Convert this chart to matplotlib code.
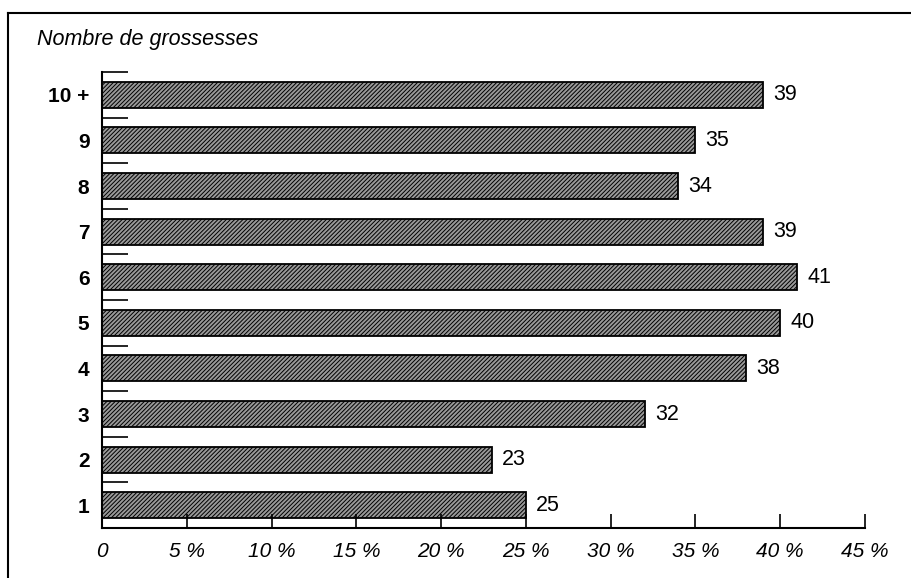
import numpy as np
import matplotlib
matplotlib.use('Agg')
from matplotlib import pyplot as plt
from matplotlib.lines import Line2D

categories = ['1', '2', '3', '4', '5', '6', '7', '8', '9', '10 +']
values = [25, 23, 32, 38, 40, 41, 39, 34, 35, 39]
xticks = [0, 5, 10, 15, 20, 25, 30, 35, 40, 45]
xtick_labels = ['0'] + ['%d %%' % v for v in xticks[1:]]

plt.rcParams['font.family'] = ['Liberation Sans', 'DejaVu Sans']
plt.rcParams['hatch.color'] = '#333333'
plt.rcParams['hatch.linewidth'] = 0.7

fig = plt.figure(figsize=(9.12, 5.78), dpi=100)
ax = fig.add_axes([102/912, 1 - 528/578, (865 - 102)/912, (528 - 72)/578])

y = np.arange(len(categories))
bars = ax.barh(y, values, height=0.57, color='#999999', edgecolor='black',
               linewidth=1.3, hatch='////////')

for yi, v in zip(y, values):
    ax.text(v + 0.6, yi, str(v), va='center', ha='left', fontsize=15.5)

ax.set_xlim(0, 45)
ax.set_ylim(-0.5, len(categories) - 0.5)

# spines
for s in ['top', 'right']:
    ax.spines[s].set_visible(False)
ax.spines['left'].set_linewidth(1.5)
ax.spines['bottom'].set_linewidth(1.5)

# x ticks pointing up
ax.set_xticks(xticks)
ax.set_xticklabels(xtick_labels, fontsize=15, style='italic')
ax.tick_params(axis='x', direction='in', length=10, width=1.2, pad=10)

# y labels at bar centers, tick marks at boundaries
ax.set_yticks(y)
ax.set_yticklabels(categories, fontsize=15, fontweight='bold')
ax.tick_params(axis='y', which='major', length=0, pad=9)
ax.set_yticks(np.arange(-0.5, len(categories), 1.0), minor=True)
ax.tick_params(axis='y', which='minor', direction='in', length=19, width=1.2)

fig.text(37/912, 1 - 45/578, 'Nombre de grossesses', fontsize=15.5,
         style='italic', va='baseline', ha='left')

# outer frame (top and left only)
fig.add_artist(Line2D([8/912, 1.0], [1 - 13/578, 1 - 13/578], color='black',
                      linewidth=1.5, transform=fig.transFigure))
fig.add_artist(Line2D([8/912, 8/912], [0.0, 1 - 13/578], color='black',
                      linewidth=1.5, transform=fig.transFigure))

plt.savefig('out.png', dpi=100)
